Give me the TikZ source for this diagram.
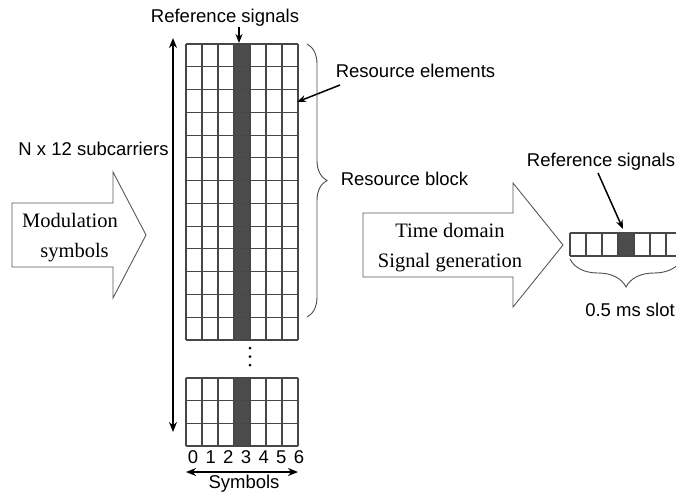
\documentclass[tikz,border=0pt]{standalone}
\usepackage{fontspec}
\setmainfont{Liberation Serif}
\setsansfont{Liberation Sans}
\usetikzlibrary{arrows.meta,decorations.pathreplacing}
\begin{document}
\begin{tikzpicture}[x=1pt,y=-1pt,
  lab/.style={font=\sffamily\fontsize{18.5}{20}\selectfont, inner sep=0pt},
  ser/.style={font=\rmfamily\fontsize{20.5}{22}\selectfont, inner sep=0pt},
  cellline/.style={draw=black!72, line width=1.1pt},
  dark/.style={fill=black!70},
  bigarrow/.style={draw=black!65, line width=0.9pt, fill=white},
  dbl/.style={{Stealth[length=10pt,width=8pt]}-{Stealth[length=10pt,width=8pt]}, line width=1.8pt},
  ptr/.style={-{Stealth[length=9pt,width=7pt]}, line width=1.5pt},
  brc/.style={decorate, draw=black!70, line width=0.9pt}]
\useasboundingbox (0,0) rectangle (676,496);

% main resource grid
\fill[dark] (234,44) rectangle (250,340);
\foreach \i in {0,...,7} \draw[cellline] ({186+16*\i},44) -- ({186+16*\i},340);
\foreach \j in {0,...,13} \draw[cellline] (186,{44+296/13*\j}) -- (298,{44+296/13*\j});

% lower grid
\fill[dark] (234,378) rectangle (250,446);
\foreach \i in {0,...,7} \draw[cellline] ({186+16*\i},378) -- ({186+16*\i},446);
\foreach \j in {0,...,3} \draw[cellline] (186,{378+68/3*\j}) -- (298,{378+68/3*\j});

% vertical dots
\foreach \y in {348,356.5,365} \fill (250,\y) circle (1.5pt);

% top label
\node[lab] (refsig) at (225,18) {Reference signals};
\coordinate (refsigtip) at (239,43);
\draw[ptr] (refsig.south -| refsigtip) -- (refsigtip);

% resource elements
\node[lab] (resel) at (415.5,71) {Resource elements};
\coordinate (reselstart) at (340,85);
\coordinate (reseltip) at (297,102);
\draw[ptr] (reselstart) -- (reseltip);

% vertical arrow
\coordinate (vtop) at (173,38);
\coordinate (vbot) at (173,432);
\draw[dbl] (vtop) -- (vbot);
\node[lab] (nsub) at (93.5,149) {N x 12 subcarriers};

% brace and resource block
\draw[brc, decoration={brace,amplitude=20pt}] (307,44) -- (307,317);
\node[lab] (resblk) at (404.5,179) {Resource block};

% symbol indices
\foreach \i in {0,...,6} \node[lab] (d\i) at ({193+17.67*\i},457) {\i};
\coordinate (sleft) at (186,472);
\coordinate (sright) at (298,472);
\draw[dbl] (sleft) -- (sright);
\node[lab] (symb) at (244,484) {Symbols};

% left block arrow
\draw[bigarrow] (12,203) -- (113,203) -- (113,172) -- (146,235) -- (113,298) -- (113,267) -- (12,267) -- cycle;
\node[ser] (mod1) at (70,220) {Modulation};
\node[ser] (mod2) at (74.5,253) {symbols};

% right block arrow
\draw[bigarrow] (363,213) -- (513,213) -- (513,183) -- (563,245) -- (513,307) -- (513,277) -- (363,277) -- cycle;
\node[ser] (td1) at (450,230) {Time domain};
\node[ser] (td2) at (450,263) {Signal generation};

% slot strip
\fill[dark] (618,233) rectangle (634,256);
\foreach \i in {0,...,7} \draw[cellline] ({570+16*\i},233) -- ({570+16*\i},256);
\draw[cellline] (570,233) -- (682,233);
\draw[cellline] (570,256) -- (682,256);
\node[lab] (refsig2) at (601,162) {Reference signals};
\coordinate (rs2start) at (598,173);
\coordinate (rs2tip) at (623,229);
\draw[ptr] (rs2start) -- (rs2tip);
\draw[brc, decoration={brace,amplitude=28pt}] (682,259) -- (570,259);
\node[lab] (slot) at (630,310) {0.5 ms slot};
\end{tikzpicture}
\end{document}
